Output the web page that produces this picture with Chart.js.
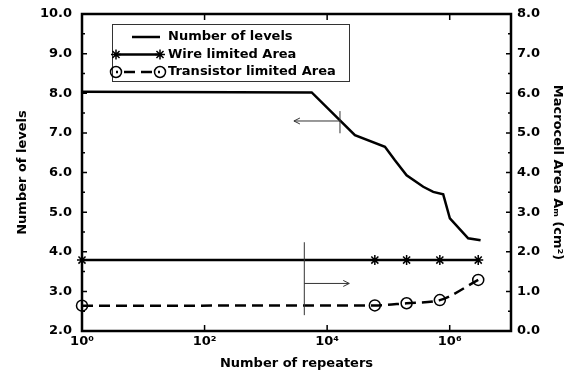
<!DOCTYPE html>
<html>
<head>
<meta charset="utf-8">
<script src="https://cdn.jsdelivr.net/npm/chart.js@4.4.0/dist/chart.umd.min.js"></script>
<style>
  html, body { margin: 0; padding: 0; background: #fff; }
  #wrap { width: 580px; height: 371px; position: relative; }
</style>
</head>
<body>
<div id="wrap"><canvas id="levelsChart"></canvas></div>
<script>
// number of repeaters vs number of metal levels (left axis)
const levelsRepeaters = [1, 5600, 28400, 87700, 127600, 198000, 370000, 538000, 783000, 1007000, 2000000, 3190000];
const levelsCount = [8.04, 8.02, 6.94, 6.65, 6.31, 5.93, 5.64, 5.51, 5.45, 4.84, 4.34, 4.29];

// macrocell area in cm^2 (right axis)
const areaRepeaters = [1, 60000, 198000, 690000, 2920000];
const wireArea = [1.79, 1.79, 1.79, 1.79, 1.79];
const transistorArea = [0.64, 0.645, 0.70, 0.78, 1.29];

const xTickValues = [1, 1e2, 1e4, 1e6];
const seriesLabels = ['Number of levels', 'Wire limited Area', 'Transistor limited Area'];

// the two arrows telling which axis a curve belongs to (data units)
const levelArrow = { axis: 'y', x: 16200, yTop: 7.55, yBottom: 6.99, y: 7.30, xTip: 2870 };
const areaArrow = { axis: 'y2', x: 4240, yTop: 2.24, yBottom: 0.40, y: 1.20, xTip: 22960 };

const FONT = "'DejaVu Sans', sans-serif";
Chart.defaults.font.family = FONT;
Chart.defaults.font.weight = 'bold';
Chart.defaults.font.size = 13;
Chart.defaults.color = '#000';

const SUP = { 0: '\u2070', 1: '\u00b9', 2: '\u00b2', 3: '\u00b3', 4: '\u2074', 5: '\u2075', 6: '\u2076', 7: '\u2077' };

const toPoints = (xs, ys) => xs.map((x, i) => ({ x: x, y: ys[i] }));

const drawArrow = (ctx, chart, a) => {
    const xs = chart.scales.x, ys = chart.scales[a.axis];
    const x = xs.getPixelForValue(a.x);
    const tip = xs.getPixelForValue(a.xTip);
    const y = ys.getPixelForValue(a.y);
    const dir = tip < x ? 1 : -1;
    ctx.beginPath();
    ctx.moveTo(x, ys.getPixelForValue(a.yTop));
    ctx.lineTo(x, ys.getPixelForValue(a.yBottom));
    ctx.moveTo(x, y);
    ctx.lineTo(tip, y);
    ctx.moveTo(tip + dir * 6, y - 3);
    ctx.lineTo(tip, y);
    ctx.lineTo(tip + dir * 6, y + 3);
    ctx.stroke();
};

const framePlugin = {
    id: 'frame',
    afterDatasetsDraw(chart) {
        const ctx = chart.ctx;
        ctx.save();
        ctx.strokeStyle = '#333';
        ctx.lineWidth = 1;
        drawArrow(ctx, chart, levelArrow);
        drawArrow(ctx, chart, areaArrow);
        ctx.restore();
    },
    afterDraw(chart) {
        const ctx = chart.ctx;
        const { left, right, top, bottom } = chart.chartArea;
        const { x, y, y2 } = chart.scales;
        ctx.save();
        ctx.strokeStyle = '#000';

        // inward tick marks
        ctx.lineWidth = 1.5;
        ctx.beginPath();
        for (let v = 2; v <= 10; v += 0.5) {
            const p = y.getPixelForValue(v);
            const len = Number.isInteger(v) ? 5 : 3;
            ctx.moveTo(left, p); ctx.lineTo(left + len, p);
        }
        for (let v = 0; v <= 8; v += 0.5) {
            const p = y2.getPixelForValue(v);
            const len = Number.isInteger(v) ? 5 : 3;
            ctx.moveTo(right, p); ctx.lineTo(right - len, p);
        }
        xTickValues.slice(1).forEach(v => {
            const p = x.getPixelForValue(v);
            ctx.moveTo(p, bottom); ctx.lineTo(p, bottom - 6);
            ctx.moveTo(p, top); ctx.lineTo(p, top + 6);
        });
        ctx.stroke();

        ctx.lineWidth = 2.5;
        ctx.strokeRect(left, top, right - left, bottom - top);

        // legend box
        const bx = 112, by = 24, bw = 237, bh = 57;
        const rows = [37, 54.5, 72];
        ctx.fillStyle = '#fff';
        ctx.fillRect(bx, by, bw, bh);
        ctx.strokeStyle = '#333';
        ctx.lineWidth = 1;
        ctx.strokeRect(bx + 0.5, by + 0.5, bw, bh);
        chart.data.datasets.forEach((ds, i) => {
            const ry = rows[i];
            const x0 = ds.pointRadius ? 116 : 132, x1 = 160;
            ctx.strokeStyle = ds.borderColor;
            ctx.lineWidth = ds.borderWidth;
            ctx.setLineDash(ds.borderDash || []);
            ctx.lineDashOffset = ds.borderDash ? -8 : 0;
            ctx.beginPath();
            ctx.moveTo(x0, ry); ctx.lineTo(x1, ry);
            ctx.stroke();
            ctx.setLineDash([]);
            if (ds.pointRadius) {
                ctx.fillStyle = 'rgba(0,0,0,0)';
                ctx.lineWidth = ds.pointBorderWidth;
                [x0, x1].forEach(px => Chart.helpers.drawPoint(ctx, {
                    pointStyle: ds.pointStyle, radius: ds.pointRadius,
                    borderWidth: ds.pointBorderWidth, rotation: 0
                }, px, ry));
            }
            ctx.fillStyle = '#000';
            ctx.font = 'bold 13px ' + FONT;
            ctx.textBaseline = 'middle';
            ctx.textAlign = 'left';
            ctx.fillText(ds.label, 168, ry);
        });
        ctx.restore();
    }
};

const plainGrid = { display: false, drawTicks: false };
const noBorder = { display: false };

// fixed axis boxes so the plot area lands where the original has it
const fitVertical = width => s => {
    s.width = width;
    s.paddingTop = 0;
    s.paddingBottom = 0;
};

new Chart(document.getElementById('levelsChart'), {
    type: 'line',
    data: {
        datasets: [{
            label: seriesLabels[0],
            data: toPoints(levelsRepeaters, levelsCount),
            yAxisID: 'y',
            borderColor: '#000',
            borderWidth: 2.5,
            pointRadius: 0,
            tension: 0,
            clip: false
        }, {
            label: seriesLabels[1],
            data: toPoints(areaRepeaters, wireArea),
            yAxisID: 'y2',
            borderColor: '#000',
            borderWidth: 2.5,
            pointStyle: 'star',
            pointRadius: 5,
            pointBorderWidth: 1.5,
            pointBorderColor: '#000',
            tension: 0,
            clip: false
        }, {
            label: seriesLabels[2],
            data: toPoints(areaRepeaters, transistorArea),
            yAxisID: 'y2',
            borderColor: '#000',
            borderWidth: 2.5,
            borderDash: [11, 6],
            pointStyle: 'circle',
            pointRadius: 5.5,
            pointBorderWidth: 1.5,
            pointBorderColor: '#000',
            pointBackgroundColor: 'rgba(0,0,0,0)',
            cubicInterpolationMode: 'monotone',
            clip: false
        }]
    },
    options: {
        responsive: true,
        maintainAspectRatio: false,
        animation: false,
        layout: { padding: { top: 14, right: 0, bottom: 0, left: 0 } },
        plugins: { legend: { display: false }, tooltip: { enabled: false } },
        scales: {
            x: {
                type: 'logarithmic',
                min: 1,
                max: 1e7,
                grid: plainGrid,
                border: noBorder,
                afterBuildTicks: s => { s.ticks = xTickValues.map(v => ({ value: v })); },
                afterFit: s => { s.height = 40; s.paddingLeft = 0; s.paddingRight = 0; },
                ticks: {
                    padding: 3,
                    maxRotation: 0,
                    autoSkip: false,
                    callback: v => '10' + SUP[Math.round(Math.log10(v))]
                },
                title: { display: true, text: 'Number of repeaters', padding: { top: 0, bottom: 0 } }
            },
            y: {
                position: 'left',
                min: 2,
                max: 10,
                grid: plainGrid,
                border: noBorder,
                afterFit: fitVertical(82),
                ticks: { stepSize: 1, padding: 10, callback: v => v.toFixed(1) },
                title: { display: true, text: 'Number of levels', padding: { top: 15, bottom: 0 } }
            },
            y2: {
                position: 'right',
                min: 0,
                max: 8,
                grid: plainGrid,
                border: noBorder,
                afterFit: fitVertical(69),
                ticks: { stepSize: 1, padding: 6, callback: v => v.toFixed(1) },
                title: { display: true, text: 'Macrocell Area A\u2098 (cm\u00b2)', padding: { top: 15, bottom: 0 } }
            }
        }
    },
    plugins: [framePlugin]
});
</script>
</body>
</html>
